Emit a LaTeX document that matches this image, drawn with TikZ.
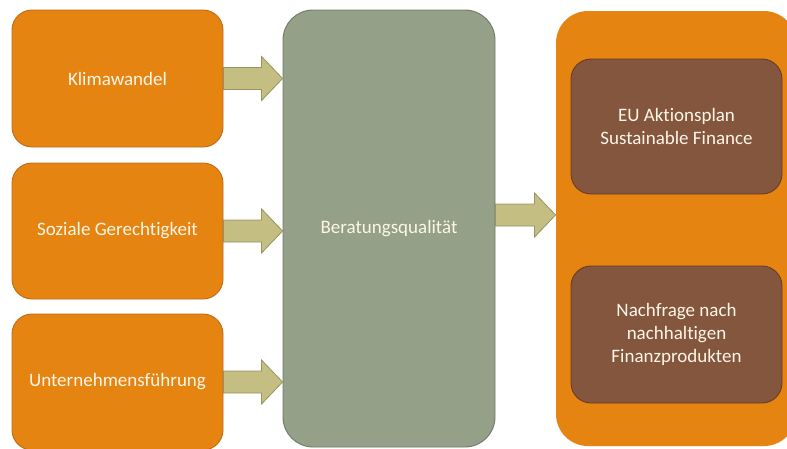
\documentclass[tikz,border=0pt]{standalone}
\usepackage{fontspec}
\setmainfont[Ligatures=NoCommon]{Carlito}
\usetikzlibrary{calc}
\definecolor{boxorange}{RGB}{230,132,18}
\definecolor{orangeline}{RGB}{190,108,20}
\definecolor{grayfill}{RGB}{148,160,135}
\definecolor{grayline}{RGB}{112,122,102}
\definecolor{brownfill}{RGB}{132,86,61}
\definecolor{brownline}{RGB}{105,60,35}
\definecolor{arrowfill}{RGB}{196,190,131}
\definecolor{arrowline}{RGB}{150,148,95}
\definecolor{txt}{RGB}{253,246,232}
\tikzset{
  base/.style={inner sep=0pt, rounded corners=20pt, line width=0.9pt, text=txt,
    font=\fontsize{19}{23}\selectfont, align=center},
  obox/.style={base, fill=boxorange, draw=orangeline, minimum width=211pt},
  gbox/.style={base, fill=grayfill, draw=grayline, rounded corners=30pt},
  bbox/.style={base, fill=brownfill, draw=brownline, minimum width=211pt},
  rbox/.style={base, fill=boxorange, draw=none, rounded corners=32pt},
  fatarrow/.style={fill=arrowfill, draw=arrowline, line width=0.8pt, line join=miter},
}
\newcommand{\blockarrow}[2]{%
  \draw[fatarrow] ($(#1)+(0,-11)$) -- ($(#2)+(-21,-11)$) -- ($(#2)+(-21,-22)$) -- (#2)
    -- ($(#2)+(-21,22)$) -- ($(#2)+(-21,11)$) -- ($(#1)+(0,11)$) -- cycle;}
\begin{document}
\begin{tikzpicture}[x=1pt,y=-1pt]
\useasboundingbox[fill=white] (0,0) rectangle (787,448);
% nodes
\node[obox, minimum height=137pt] (k) at (117.5,78.5) {Klimawandel};
\node[obox, minimum height=136pt] (s) at (117.5,231) {Soziale Gerechtigkeit};
\node[obox, minimum height=136pt] (u) at (117.5,382) {Unternehmensführung};
\node[gbox, minimum width=212pt, minimum height=437pt] (g) at (389,228.5) {Beratungsqualität};
\node[rbox, minimum width=240pt, minimum height=435pt] (o) at (676,228.5) {};
\node[bbox, minimum height=135pt] (b1) at (676.5,126.5) {EU Aktionsplan\\Sustainable Finance};
\node[bbox, minimum height=137pt] (b2) at (676.5,334.5) {Nachfrage nach\\nachhaltigen\\Finanzprodukten};
% arrows
\coordinate (k2) at (g.west |- k.east);
\coordinate (s2) at (g.west |- s.east);
\coordinate (u2) at (g.west |- u.east);
\coordinate (ga) at ($(g.east)+(0,-13.5)$);
\coordinate (oa) at (o.west |- ga);
\blockarrow{k.east}{k2}
\blockarrow{s.east}{s2}
\blockarrow{u.east}{u2}
\blockarrow{ga}{oa}
\end{tikzpicture}
\end{document}
